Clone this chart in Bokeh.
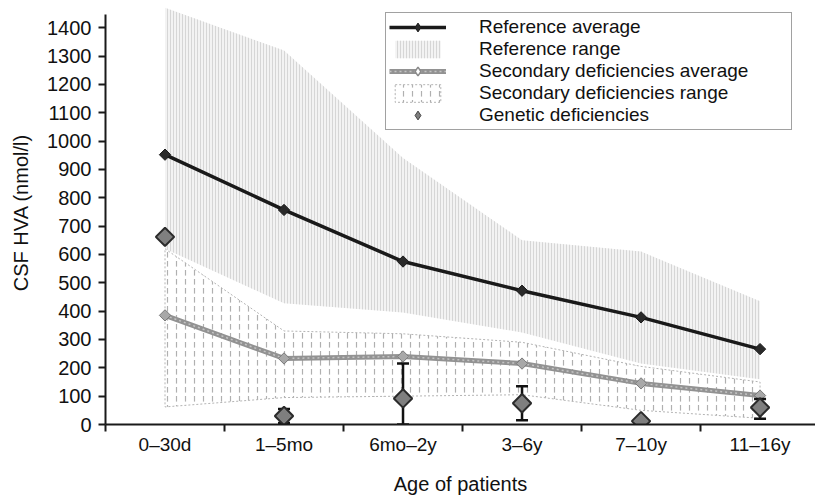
import math
from bokeh.plotting import figure
from bokeh.models import Range1d, FixedTicker, Legend, LegendItem
from bokeh.embed import file_html
from bokeh.resources import INLINE

# ---- data ----
categories = ["0–30d", "1–5mo", "6mo–2y", "3–6y", "7–10y", "11–16y"]
ref_avg = [952, 757, 575, 472, 378, 266]
ref_hi = [1470, 1320, 940, 650, 610, 435]
ref_lo = [620, 428, 395, 325, 215, 160]
sec_avg = [385, 233, 240, 215, 145, 102]
sec_hi = [620, 330, 320, 290, 205, 150]
sec_lo = [62, 95, 100, 105, 50, 22]
gen_val = [662, 30, 92, 75, 12, 60]
err_cats = ["1–5mo", "6mo–2y", "3–6y", "11–16y"]
err_lo = [5, 0, 15, 20]
err_hi = [55, 215, 135, 90]
y_ticks = list(range(0, 1500, 100))

FONT = "Liberation Sans"
DARK = "#1a1a1a"
NAN = float("nan")

xs = [i + 0.5 for i in range(len(categories))]
ex = [categories.index(c) + 0.5 for c in err_cats]

p = figure(width=815, height=499, output_backend="svg", toolbar_location=None,
           x_range=Range1d(0, 5.966), y_range=Range1d(0, 1496),
           min_border_left=105, min_border_right=0, min_border_top=0,
           min_border_bottom=75, background_fill_color="white",
           border_fill_color="white")
p.outline_line_color = None
p.xgrid.visible = False
p.ygrid.visible = False

# reference range band
ref_band = p.patch(xs + xs[::-1], ref_hi + ref_lo[::-1], fill_color="#f3f3f3",
                   line_color=None, hatch_pattern="|", hatch_scale=3,
                   hatch_color="#d6d6d6", hatch_weight=1)
# secondary range band
sec_band = p.patch(xs + xs[::-1], sec_hi + sec_lo[::-1], fill_color="white",
                   line_color="#b4b4b4", line_width=1, line_dash="2 2",
                   hatch_pattern=":", hatch_scale=9, hatch_color="#b0b0b0",
                   hatch_weight=1.2)

# reference average
ref_line = p.line(xs, ref_avg, line_color=DARK, line_width=3.5)
ref_pts = p.scatter(xs, ref_avg, marker="square", angle=math.pi / 4, size=8,
                    fill_color="#2a2a2a", line_color=DARK)

# secondary average
sec_line = p.line(xs, sec_avg, line_color="#929292", line_width=5)
sec_line2 = p.line(xs, sec_avg, line_color="#c4c4c4", line_width=1.5,
                   line_dash="2 3")
sec_pts = p.scatter(xs, sec_avg, marker="square", angle=math.pi / 4, size=8,
                    fill_color="#a8a8a8", line_color="#7a7a7a")

# genetic deficiencies: error bars + diamonds
p.segment(ex, err_lo, ex, err_hi, line_color="#111111", line_width=2.5)
p.scatter(ex, err_lo, marker="dash", size=12, line_color="#111111", line_width=2.5)
p.scatter(ex, err_hi, marker="dash", size=12, line_color="#111111", line_width=2.5)
gen_pts = p.scatter(xs, gen_val, marker="square", angle=math.pi / 4, size=13,
                    fill_color="#7f7f7f", line_color="#2b2b2b", line_width=2)

# legend-only diamond glyphs (NaN data, nothing drawn in the plot)
lg_ref = p.scatter([NAN], [NAN], marker="diamond", fill_color="#2a2a2a", line_color=DARK)
lg_sec = p.scatter([NAN], [NAN], marker="diamond", fill_color="white", line_color="#8a8a8a",
                   line_width=1.5)
lg_gen = p.scatter([NAN], [NAN], marker="diamond", fill_color="#7f7f7f", line_color="#444444",
                   line_width=1)

# axes
xa = p.xaxis[0]
xa.ticker = FixedTicker(ticks=xs, minor_ticks=list(range(len(categories))))
xa.major_label_overrides = {x: c for x, c in zip(xs, categories)}
xa.major_tick_line_color = None
xa.major_tick_out = 7
xa.major_tick_in = 0
xa.minor_tick_out = 7
xa.minor_tick_in = 0
xa.minor_tick_line_color = DARK
xa.minor_tick_line_width = 2
xa.axis_label = "Age of patients"
xa.axis_label_standoff = 15
xa.major_label_standoff = 2
xa.major_label_text_font_size = "19px"

ya = p.yaxis[0]
ya.ticker = FixedTicker(ticks=y_ticks, minor_ticks=[])
ya.bounds = (0, 1448)
ya.major_tick_out = 7
ya.major_tick_in = 0
ya.major_tick_line_color = DARK
ya.major_tick_line_width = 2
ya.axis_label = "CSF HVA (nmol/l)"
ya.axis_label_standoff = 12
ya.major_label_standoff = 7
ya.major_label_text_font_size = "20px"

for a in (xa, ya):
    a.axis_line_color = DARK
    a.axis_line_width = 2
    a.major_label_text_font = FONT
    a.major_label_text_color = "#111111"
    a.axis_label_text_font = FONT
    a.axis_label_text_font_size = "20px"
    a.axis_label_text_font_style = "normal"
    a.axis_label_text_color = "#111111"

legend = Legend(items=[
    LegendItem(label="Reference average", renderers=[ref_line, lg_ref]),
    LegendItem(label="Reference range", renderers=[ref_band]),
    LegendItem(label="Secondary deficiencies average", renderers=[sec_line, sec_line2, lg_sec]),
    LegendItem(label="Secondary deficiencies range", renderers=[sec_band]),
    LegendItem(label="Genetic deficiencies", renderers=[lg_gen]),
], location=(280, 294), margin=0, padding=3, spacing=0,
    glyph_width=57, glyph_height=22, label_standoff=33, label_width=309,
    label_text_font=FONT, label_text_font_size="19px", label_text_color="#111111",
    border_line_color="#444444", border_line_width=1.5,
    background_fill_color="white", background_fill_alpha=1)
p.add_layout(legend, "center")

open("out.html", "w").write(file_html(p, INLINE))
